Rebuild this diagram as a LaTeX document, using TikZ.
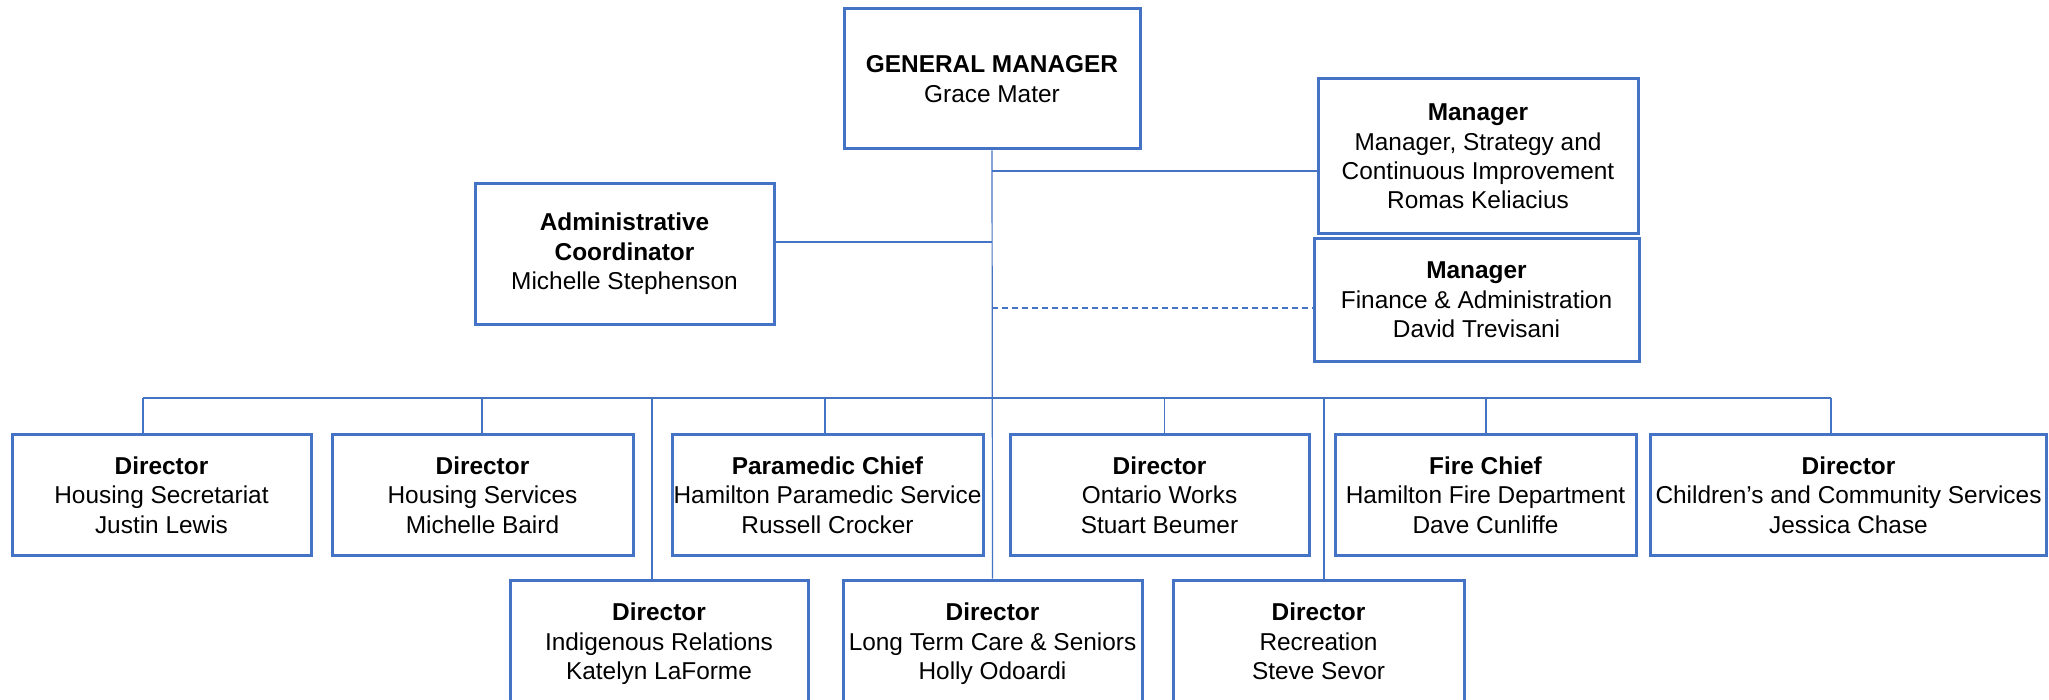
\documentclass[tikz,border=0pt]{standalone}
\usepackage{fontspec}
\setmainfont{Liberation Sans}
\definecolor{orgblue}{HTML}{4472C4}
\begin{document}
\begin{tikzpicture}[x=0.5pt,y=-0.5pt,
  box/.style={draw=orgblue, line width=1.5pt, fill=white, inner sep=0pt, align=center,
    font=\fontsize{12.2pt}{14.7pt}\selectfont},
  conn/.style={draw=orgblue, line width=0.6pt},
  dconn/.style={draw=orgblue, line width=0.6pt, dash pattern=on 3pt off 2pt}]
\useasboundingbox (0,0) rectangle (2049,700);
\clip (0,0) rectangle (2049,700);
% top level
\node[box, minimum width=148pt, minimum height=70pt] (gm) at (992,79) {\textbf{GENERAL MANAGER}\\Grace Mater};
\node[box, minimum width=160pt, minimum height=77.5pt] (strat) at (1478,156.5) {\textbf{Manager}\\Manager, Strategy and\\Continuous Improvement\\Romas Keliacius};
\node[box, minimum width=162.5pt, minimum height=61pt] (fin) at (1476.5,300) {\textbf{Manager}\\Finance \& Administration\\David Trevisani};
\node[box, minimum width=149.5pt, minimum height=70.5pt] (adm) at (624.5,254) {\textbf{Administrative}\\\textbf{Coordinator}\\Michelle Stephenson};
% top row
\node[box, minimum width=149.5pt, minimum height=60.5pt] (d1) at (161.5,495) {\textbf{Director}\\Housing Secretariat\\Justin Lewis};
\node[box, minimum width=150.5pt, minimum height=60.5pt] (d2) at (482.5,495) {\textbf{Director}\\Housing Services\\Michelle Baird};
\node[box, minimum width=155.5pt, minimum height=60.5pt] (d3) at (827.5,495) {\textbf{Paramedic Chief}\\Hamilton Paramedic Service\\Russell Crocker};
\node[box, minimum width=149.5pt, minimum height=60.5pt] (d4) at (1159.5,495) {\textbf{Director}\\Ontario Works\\Stuart Beumer};
\node[box, minimum width=150.5pt, minimum height=60.5pt] (d5) at (1485.5,495) {\textbf{Fire Chief}\\Hamilton Fire Department\\Dave Cunliffe};
\node[box, minimum width=198pt, minimum height=60.5pt] (d6) at (1848.5,495) {\textbf{Director}\\Children’s and Community Services\\Jessica Chase};
% bottom row
\node[box, minimum width=149pt, minimum height=64pt] (c1) at (659,644) {\textbf{Director}\\Indigenous Relations\\Katelyn LaForme};
\node[box, minimum width=149.5pt, minimum height=64pt] (c2) at (992.5,644) {\textbf{Director}\\Long Term Care \& Seniors\\Holly Odoardi};
\node[box, minimum width=145.5pt, minimum height=64pt] (c3) at (1318.5,644) {\textbf{Director}\\Recreation\\Steve Sevor\vphantom{y}};
% junctions
\coordinate (j1) at (992,171);
\coordinate (j2) at (992,242);
\coordinate (j3) at (992,308);
\coordinate (bl) at (143,398);
\coordinate (br) at (1831,398);
\coordinate (b2) at (482,398);
\coordinate (b3) at (825,398);
\coordinate (b4) at (1164.5,398);
\coordinate (b5) at (1486,398);
\coordinate (bc1) at (652,398);
\coordinate (bc3) at (1324,398);
% connectors
\draw[conn] (gm.south) -- (c2.north);
\draw[conn] (j1) -- (j1 -| strat.west);
\draw[conn] (j2) -- (j2 -| adm.east);
\draw[dconn] (j3) -- (j3 -| fin.west);
\draw[conn] (bl) -- (br);
\draw[conn] (bl) -- (bl |- d1.north);
\draw[conn] (b2) -- (b2 |- d2.north);
\draw[conn] (b3) -- (b3 |- d3.north);
\draw[conn] (b4) -- (b4 |- d4.north);
\draw[conn] (b5) -- (b5 |- d5.north);
\draw[conn] (br) -- (br |- d6.north);
\draw[conn] (bc1) -- (bc1 |- c1.north);
\draw[conn] (bc3) -- (bc3 |- c3.north);
\end{tikzpicture}
\end{document}
